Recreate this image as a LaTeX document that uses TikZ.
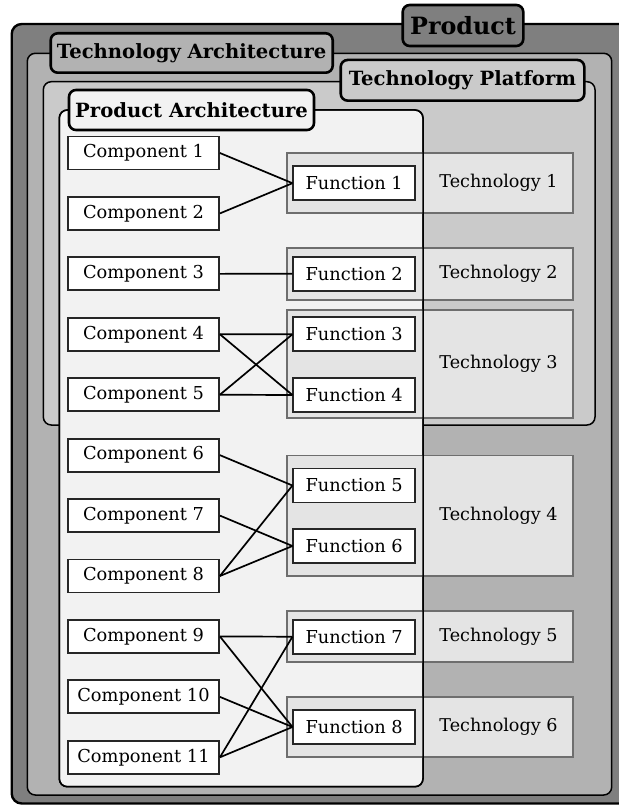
\documentclass[tikz,border=0pt]{standalone}
\usepackage{fontspec}
\setmainfont{DejaVu Serif}
\definecolor{prodfill}{HTML}{7F7F7F}
\definecolor{tafill}{HTML}{B2B2B2}
\definecolor{tpfill}{HTML}{CACACA}
\definecolor{pafill}{HTML}{F2F2F2}
\definecolor{techfill}{HTML}{E4E4E4}
\definecolor{techline}{HTML}{6E6E6E}
\begin{document}
\begin{tikzpicture}[x=1pt,y=-1pt,
  container/.style={draw=black, line width=1.5pt, rounded corners=8pt},
  titlebox/.style={draw=black, line width=2.6pt, rounded corners=7pt, inner sep=0pt,
    font=\bfseries\fontsize{19.6}{19.6}\selectfont},
  comp/.style={draw=black!85, line width=1.8pt, fill=white, inner sep=0pt,
    minimum width=151pt, minimum height=33pt, font=\fontsize{17.8}{17.8}\selectfont},
  func/.style={comp, minimum width=121.7pt, minimum height=34pt},
  techbox/.style={draw=techline, line width=1.8pt, fill=techfill},
  techlabel/.style={inner sep=0pt, font=\fontsize{17.6}{17.6}\selectfont},
  link/.style={line width=1.7pt, black}
]
\useasboundingbox (0,0) rectangle (618,805);

% nested containers
\path[container, line width=2.4pt, rounded corners=10pt, fill=prodfill] (11.7,24) rectangle (632,803.5);
\path[container, fill=tafill] (27.3,53.3) rectangle (611.7,795);
\path[container, fill=tpfill] (43.3,81.7) rectangle (595,425);
\path[container, fill=pafill] (59.3,110) rectangle (423,786.7);

% technology bands
\path[techbox] (286.7,153.2) rectangle (573.3,213.3);
\path[techbox] (286.7,248.3) rectangle (573.3,300);
\path[techbox] (286.7,310) rectangle (573.3,418.3);
\path[techbox] (286.7,455.5) rectangle (573.3,576);
\path[techbox] (286.7,610.7) rectangle (573.3,662.3);
\path[techbox] (286.7,696.7) rectangle (573.3,757.3);

% product architecture border on top of the bands
\draw[container] (59.3,110) rectangle (423,786.7);

% container titles
\node[titlebox, fill=prodfill, minimum width=120.6pt, minimum height=41pt,
  font=\bfseries\fontsize{23.8}{23.8}\selectfont] (tprod) at (463,25.5) {Product};
\node[titlebox, fill=tafill, minimum width=282pt, minimum height=39.4pt] (tta) at (191.7,53) {Technology Architecture};
\node[titlebox, fill=tpfill, minimum width=243.6pt, minimum height=40.7pt] (ttp) at (462.5,80.3) {Technology Platform};
\node[titlebox, fill=pafill, minimum width=245pt, minimum height=40pt] (tpa) at (191.5,110) {Product Architecture};

% components
\foreach \i in {1,...,11} {
  \node[comp] (c\i) at (143.5,{153+60.43*(\i-1)}) {Component \i};
}

% functions
\node[func] (f1) at (354.2,183.2) {Function 1};
\node[func] (f2) at (354.2,273.7) {Function 2};
\node[func] (f3) at (354.2,334.3) {Function 3};
\node[func] (f4) at (354.2,395) {Function 4};
\node[func] (f5) at (354.2,485.5) {Function 5};
\node[func] (f6) at (354.2,546) {Function 6};
\node[func] (f7) at (354.2,636.7) {Function 7};
\node[func] (f8) at (354.2,727) {Function 8};

% technologies
\node[techlabel] (t1) at (498.5,183.2) {Technology 1};
\node[techlabel] (t2) at (498.5,274.2) {Technology 2};
\node[techlabel] (t3) at (498.5,364.2) {Technology 3};
\node[techlabel] (t4) at (498.5,516) {Technology 4};
\node[techlabel] (t5) at (498.5,636.5) {Technology 5};
\node[techlabel] (t6) at (498.5,727) {Technology 6};

% component-to-function links
\draw[link] (c1.east) -- (f1.west);
\draw[link] (c2.east) -- (f1.west);
\draw[link] (c3.east) -- (f2.west);
\draw[link] (c4.east) -- (f3.west);
\draw[link] (c4.east) -- (f4.west);
\draw[link] (c5.east) -- (f3.west);
\draw[link] (c5.east) -- (f4.west);
\draw[link] (c6.east) -- (f5.west);
\draw[link] (c7.east) -- (f6.west);
\draw[link] (c8.east) -- (f5.west);
\draw[link] (c8.east) -- (f6.west);
\draw[link] (c9.east) -- (f7.west);
\draw[link] (c9.east) -- (f8.west);
\draw[link] (c10.east) -- (f8.west);
\draw[link] (c11.east) -- (f7.west);
\draw[link] (c11.east) -- (f8.west);
\end{tikzpicture}
\end{document}
